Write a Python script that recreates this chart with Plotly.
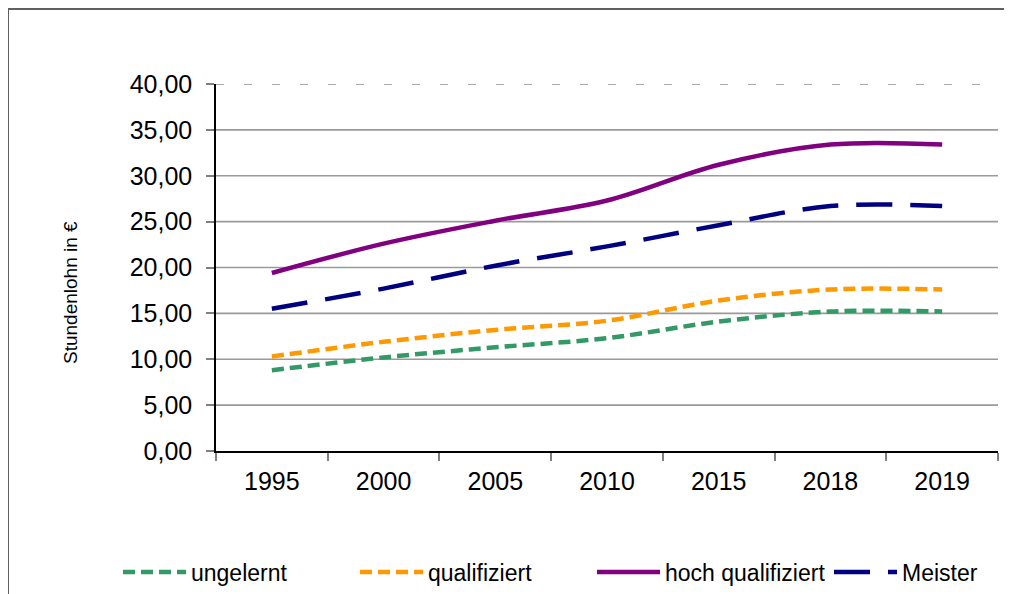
# Stundenlohn nach Qualifikation
import plotly.graph_objects as go

# ================================
# Daten
# ================================
jahre = ['1995', '2000', '2005', '2010', '2015', '2018', '2019']
ungelernt = [8.8, 10.2, 11.3, 12.3, 14.1, 15.2, 15.2]
qualifiziert = [10.3, 11.9, 13.2, 14.2, 16.4, 17.6, 17.6]
hoch_qualifiziert = [19.4, 22.6, 25.1, 27.3, 31.2, 33.4, 33.4]
meister = [15.5, 17.7, 20.2, 22.3, 24.6, 26.7, 26.7]
y_ticks = [0, 5, 10, 15, 20, 25, 30, 35, 40]

FONT = 'Liberation Sans, Arial, sans-serif'

# Seite hat 8px body-margin -> Figur beginnt bei (8, 8)
OFF = 8
W, H = 1012 - OFF, 594 - OFF
# Plotfläche im Screenshot: x 216..998, y 84..451
L, T = 216 - OFF, 84 - OFF
R, B = W - (998 - OFF), H - (451 - OFF)
pw, ph = W - L - R, H - T - B

def px_x(p):
    # Screenshot-x -> paper
    return (p - OFF - L) / pw

def px_y(p):
    # Screenshot-y -> paper
    return (H - B - (p - OFF)) / ph

fig = go.Figure()

reihen = [
    ('ungelernt', ungelernt, '#339966', '12px,6px'),
    ('qualifiziert', qualifiziert, '#FF9900', '12px,6px'),
    ('hoch qualifiziert', hoch_qualifiziert, '#800080', 'solid'),
    ('Meister', meister, '#000080', '36px,18px'),
]
for name, werte, farbe, dash in reihen:
    fig.add_trace(go.Scatter(
        x=jahre, y=werte, name=name, mode='lines',
        line=dict(color=farbe, width=4.5, dash=dash, shape='spline', smoothing=1),
    ))

# Gitterlinien (oberste gestrichelt)
shapes = []
for v in y_ticks[1:]:
    shapes.append(dict(
        type='line', xref='paper', yref='y', x0=0, x1=1, y0=v, y1=v,
        line=dict(color='#555555' if v == 40 else '#9a9a9a',
                  width=1 if v == 40 else 1.6,
                  dash='8px,20px' if v == 40 else 'solid'),
        layer='below',
    ))
# Rahmen ums Diagramm
shapes.append(dict(
    type='rect', xref='paper', yref='paper',
    x0=px_x(8), x1=px_x(1030), y0=px_y(9), y1=px_y(620),
    line=dict(color='#606060', width=2), fillcolor='rgba(0,0,0,0)',
))

fig.update_layout(
    width=W, height=H,
    margin=dict(l=L, r=R, t=T, b=B, autoexpand=False),
    paper_bgcolor='white', plot_bgcolor='white',
    separators=',.',
    font=dict(family=FONT, color='black', size=25),
    shapes=shapes,
    showlegend=True,
    legend=dict(
        orientation='h', x=px_x(118), xanchor='left',
        y=px_y(572), yanchor='middle',
        itemwidth=63,
        entrywidth=159, entrywidthmode='pixels',
        font=dict(family=FONT, size=23, color='black'),
        bgcolor='rgba(0,0,0,0)',
    ),
    annotations=[dict(
        text='Stundenlohn in €', textangle=-90,
        xref='paper', yref='paper', x=px_x(70), y=px_y(293),
        xanchor='center', yanchor='middle',
        showarrow=False, font=dict(family=FONT, size=19, color='black'),
    )],
)

fig.update_xaxes(
    type='category', categoryorder='array', categoryarray=jahre,
    range=[-0.5, 6.5], tickson='boundaries',
    showline=True, linecolor='black', linewidth=1.5,
    ticks='outside', ticklen=8, tickwidth=1.5, tickcolor='#808080',
    showgrid=False, ticklabelstandoff=7,
    tickfont=dict(family=FONT, size=25, color='black'),
)
fig.update_yaxes(
    range=[0, 40], tickvals=y_ticks, tickformat='.2f',
    showline=True, linecolor='black', linewidth=1.5,
    ticks='outside', ticklen=8, tickwidth=1.5, tickcolor='#808080',
    showgrid=False, zeroline=False, ticklabelstandoff=9,
    tickfont=dict(family=FONT, size=25, color='black'),
)

fig.write_html("out.html")
